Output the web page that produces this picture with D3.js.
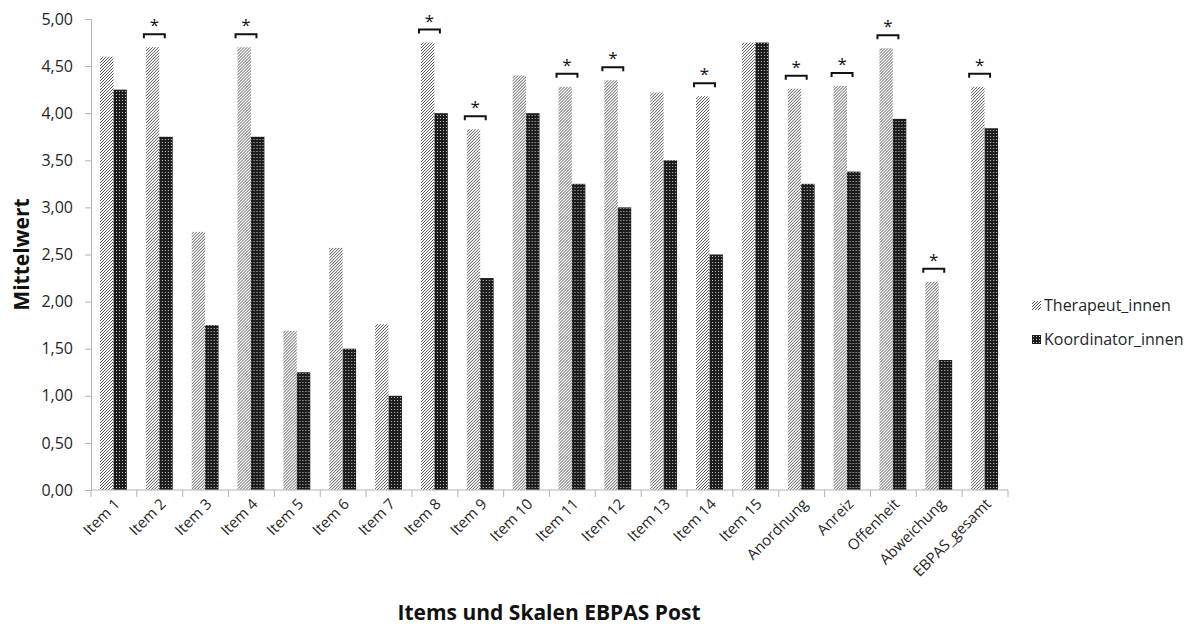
<!DOCTYPE html>
<html>
<head>
<meta charset="utf-8">
<script src="https://cdn.jsdelivr.net/npm/d3@7"></script>
<style>
  body { margin: 0; background: #fff; }
  svg { display: block; }
</style>
</head>
<body>
<svg id="chart" width="1197" height="627"></svg>
<script>
// EBPAS post scores per item / scale
const categories = ["Item 1","Item 2","Item 3","Item 4","Item 5","Item 6","Item 7","Item 8","Item 9","Item 10",
  "Item 11","Item 12","Item 13","Item 14","Item 15","Anordnung","Anreiz","Offenheit","Abweichung","EBPAS_gesamt"];
const seriesNames = ["Therapeut_innen", "Koordinator_innen"];
const therapeuten = [4.60,4.70,2.74,4.70,1.69,2.57,1.76,4.75,3.83,4.40,4.28,4.35,4.22,4.18,4.75,4.26,4.29,4.69,2.21,4.28];
const koordinatoren = [4.25,3.75,1.75,3.75,1.25,1.50,1.00,4.00,2.25,4.00,3.25,3.00,3.50,2.50,4.75,3.25,3.38,3.94,1.38,3.84];
const significant = ["Item 2","Item 4","Item 8","Item 9","Item 11","Item 12","Item 14","Anordnung","Anreiz","Offenheit","Abweichung","EBPAS_gesamt"];
const yTicks = [0,0.5,1,1.5,2,2.5,3,3.5,4,4.5,5];

const svg = d3.select("#chart");
const font = "'Open Sans', 'Noto Sans', sans-serif";

// fill patterns
const defs = svg.append("defs");
const hatch = defs.append("pattern").attr("id","hatch").attr("patternUnits","userSpaceOnUse")
  .attr("width",3).attr("height",3);
hatch.append("rect").attr("width",3).attr("height",3).attr("fill","#fff");
hatch.append("path").attr("d","M-1,1 L1,-1 M0,3 L3,0 M2,4 L4,2")
  .attr("stroke","#555").attr("stroke-width",1);
const dots = defs.append("pattern").attr("id","dots").attr("patternUnits","userSpaceOnUse")
  .attr("width",3).attr("height",3);
dots.append("rect").attr("width",3).attr("height",3).attr("fill","#1c1c1c");
dots.append("rect").attr("x",1).attr("y",1).attr("width",1).attr("height",1).attr("fill","#c8c8c8");
const fills = ["url(#hatch)", "url(#dots)"];

const x0 = 91, x1 = 1008, yTop = 19, yBot = 490;
const x = d3.scaleBand().domain(categories).range([x0, x1]).paddingInner(0).paddingOuter(0);
const xs = d3.scaleBand().domain(seriesNames).range([9, x.bandwidth() - 10]).padding(0);
const y = d3.scaleLinear().domain([0, 5]).range([yBot, yTop]);

const axisColor = "#b3b3b3";
const textColor = "#262626";

// bars
const rows = categories.map((c, i) => ({ c, vals: [therapeuten[i], koordinatoren[i]] }));
const groups = svg.append("g").selectAll("g").data(rows).join("g")
  .attr("transform", d => `translate(${x(d.c)},0)`);
groups.selectAll("rect").data(d => d.vals.map((v, k) => ({ v, k }))).join("rect")
  .attr("x", d => xs(seriesNames[d.k]))
  .attr("width", xs.bandwidth())
  .attr("y", d => y(d.v))
  .attr("height", d => y(0) - y(d.v))
  .attr("fill", d => fills[d.k]);

// y axis
const yAxis = svg.append("g").attr("transform", `translate(${x0},0)`)
  .call(d3.axisLeft(y).tickValues(yTicks).tickSize(6).tickSizeOuter(6).tickPadding(12)
    .tickFormat(d => d3.format(".2f")(d).replace(".", ",")));
yAxis.selectAll("path,line").attr("stroke", axisColor);
yAxis.selectAll("text").attr("font-family", font).attr("font-size", 16).attr("fill", textColor);

// x axis: ticks between categories
const xAxis = svg.append("g").attr("transform", `translate(0,${yBot})`);
xAxis.append("line").attr("x1", x0).attr("x2", x1).attr("stroke", axisColor);
xAxis.selectAll("line.tk").data(categories.concat([null])).join("line").attr("class","tk")
  .attr("x1", (d, i) => x0 + i * x.bandwidth()).attr("x2", (d, i) => x0 + i * x.bandwidth())
  .attr("y1", 0).attr("y2", 7).attr("stroke", axisColor);
xAxis.selectAll("text").data(categories).join("text")
  .attr("transform", d => `translate(${x(d) + x.bandwidth() / 2 + 7},${15}) rotate(-45)`)
  .attr("text-anchor", "end")
  .attr("font-family", font).attr("font-size", 15).attr("fill", textColor)
  .text(d => d);

// significance markers
const sig = svg.append("g");
significant.forEach(c => {
  const i = categories.indexOf(c);
  const top = y(therapeuten[i]) - 13;
  const bx0 = x(c) + 7, bx1 = x(c) + x.bandwidth() / 2 + 5;
  sig.append("path")
    .attr("d", `M${bx0},${top + 4} V${top} H${bx1} V${top + 4}`)
    .attr("fill", "none").attr("stroke", "#111").attr("stroke-width", 2);
  sig.append("text").attr("x", (bx0 + bx1) / 2).attr("y", top - 3)
    .attr("text-anchor", "middle").attr("font-family", font).attr("font-size", 17)
    .attr("fill", "#111").text("*");
});

// axis titles
svg.append("text").attr("transform", `translate(29,${(yTop + yBot) / 2}) rotate(-90)`)
  .attr("text-anchor", "middle").attr("font-family", font).attr("font-weight", "bold")
  .attr("font-size", 21).attr("fill", "#111").text("Mittelwert");
svg.append("text").attr("x", 549).attr("y", 620)
  .attr("text-anchor", "middle").attr("font-family", font).attr("font-weight", "bold")
  .attr("font-size", 21).attr("fill", "#111").text("Items und Skalen EBPAS Post");

// legend
const legend = svg.append("g").attr("transform", "translate(1032,301)");
seriesNames.forEach((s, k) => {
  const g = legend.append("g").attr("transform", `translate(0,${k * 34})`);
  g.append("rect").attr("width", 9).attr("height", 9).attr("fill", fills[k]);
  g.append("text").attr("x", 12).attr("y", 10).attr("font-family", font)
    .attr("font-size", 16).attr("fill", textColor).text(s);
});
</script>
</body>
</html>
